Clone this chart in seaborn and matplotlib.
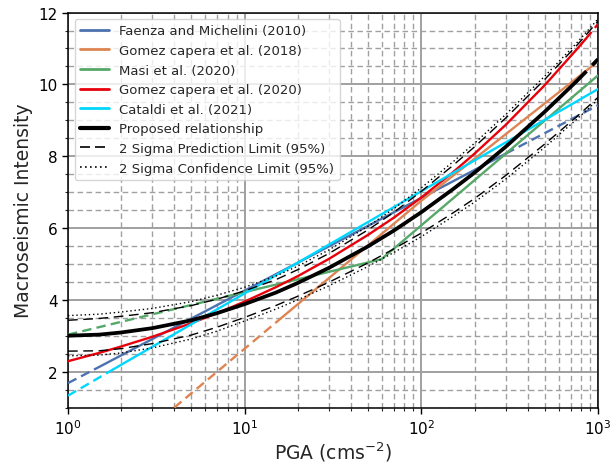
import numpy as np
import pandas as pd
import matplotlib
matplotlib.use("Agg")
import matplotlib.pyplot as plt
import seaborn as sns
from matplotlib.lines import Line2D
from matplotlib.ticker import MultipleLocator, LogLocator, NullFormatter

# ---- data: intensity vs PGA (cm/s^2) ----
# Shared PGA grid for the proposed relationship, its limits and Gomez capera 2020
pga_grid = [1, 1.5, 2, 3, 5, 7, 10, 15, 20, 30, 50, 70, 100, 150, 200, 300, 500, 750, 850, 1000]

proposed_mmi = [3.00, 3.03, 3.09, 3.21, 3.43, 3.63, 3.88, 4.20, 4.47, 4.89, 5.49, 5.93,
                6.44, 7.07, 7.54, 8.26, 9.24, 10.07, 10.34, 10.70]
pred_upper = [3.43, 3.48, 3.54, 3.64, 3.84, 4.02, 4.25, 4.56, 4.84, 5.29, 5.95, 6.44,
              7.02, 7.73, 8.26, 9.06, 10.14, 11.06, 11.36, 11.76]
pred_lower = [2.57, 2.58, 2.64, 2.78, 3.02, 3.24, 3.51, 3.84, 4.10, 4.49, 5.03, 5.42,
              5.86, 6.41, 6.82, 7.46, 8.34, 9.08, 9.32, 9.64]
conf_upper = [3.56, 3.60, 3.66, 3.76, 3.95, 4.13, 4.35, 4.66, 4.94, 5.39, 6.05, 6.54,
              7.12, 7.83, 8.36, 9.16, 10.23, 11.13, 11.43, 11.82]
conf_lower = [2.44, 2.46, 2.52, 2.66, 2.91, 3.13, 3.41, 3.74, 4.00, 4.39, 4.93, 5.32,
              5.76, 6.31, 6.72, 7.36, 8.25, 9.01, 9.25, 9.58]
gomez2020_mmi = [2.29, 2.52, 2.70, 2.97, 3.35, 3.63, 3.95, 4.35, 4.66, 5.14, 5.81, 6.29,
                 6.85, 7.54, 8.07, 8.87, 9.98, 10.95, 11.26, 11.68]

# Linear (in log PGA) relations, given at their end points and validity limits
faenza_pga = [1, 1.5, 300, 1000]
faenza_mmi = [1.68, 2.13, 8.07, 9.42]
gomez2018_pga = [1, 16, 100, 1000]
gomez2018_mmi = [-1.48, 3.48, 6.76, 10.64]
masi_pga = [1, 8, 59.4, 1000]
masi_mmi = [3.03, 4.10, 5.13, 10.25]
cataldi_pga = [1, 1.8, 1000]
cataldi_mmi = [1.33, 2.06, 9.87]

# validity range (solid part) of each relation; outside it the line is dashed
ranges = {
    "Faenza and Michelini (2010)": (1.5, 300),
    "Gomez capera et al. (2018)": (16, 1000),
    "Masi et al. (2020)": (8, 1000),
    "Gomez capera et al. (2020)": (1, 850),
    "Cataldi et al. (2021)": (1.8, 1000),
    "Proposed relationship": (1, 750),
}

colors = {
    "Faenza and Michelini (2010)": "#4C72B0",
    "Gomez capera et al. (2018)": "#DD8452",
    "Masi et al. (2020)": "#55A868",
    "Gomez capera et al. (2020)": "#E8000B",
    "Cataldi et al. (2021)": "#00D7FF",
    "Proposed relationship": "black",
}

sns.set_style("ticks")
plt.rcParams["font.family"] = ["DejaVu Sans"]

fig = plt.figure(figsize=(6.1, 4.64), dpi=100)
ax = fig.add_axes([0.1115, 0.1196, 0.8688, 0.8511])
ax.set_xscale("log")


def draw_relation(name, pga, mmi, lw):
    df = pd.DataFrame({"PGA": pga, "MMI": mmi})
    lo, hi = ranges[name]
    col = colors[name]
    solid = df[(df.PGA >= lo) & (df.PGA <= hi)]
    sns.lineplot(data=solid, x="PGA", y="MMI", color=col, lw=lw, ax=ax,
                 errorbar=None, zorder=3)
    for part in (df[df.PGA <= lo], df[df.PGA >= hi]):
        if len(part) >= 2:
            sns.lineplot(data=part, x="PGA", y="MMI", color=col, lw=lw, ax=ax,
                         errorbar=None, linestyle=(0, (4.0, 2.2)), zorder=3)


draw_relation("Faenza and Michelini (2010)", faenza_pga, faenza_mmi, 1.7)
draw_relation("Gomez capera et al. (2018)", gomez2018_pga, gomez2018_mmi, 1.7)
draw_relation("Masi et al. (2020)", masi_pga, masi_mmi, 1.7)
draw_relation("Gomez capera et al. (2020)", pga_grid, gomez2020_mmi, 1.7)
draw_relation("Cataldi et al. (2021)", cataldi_pga, cataldi_mmi, 1.7)
draw_relation("Proposed relationship", pga_grid, proposed_mmi, 2.7)

limits = pd.DataFrame({"PGA": pga_grid, "pu": pred_upper, "pl": pred_lower,
                       "cu": conf_upper, "cl": conf_lower})
for c in ("pu", "pl"):
    sns.lineplot(data=limits, x="PGA", y=c, color="black", lw=1.0, ax=ax,
                 errorbar=None, linestyle=(0, (7, 4)), zorder=4)
for c in ("cu", "cl"):
    sns.lineplot(data=limits, x="PGA", y=c, color="black", lw=1.0, ax=ax,
                 errorbar=None, linestyle=(0, (1, 2)), zorder=4)

ax.set_xlim(1, 1000)
ax.set_ylim(1, 12)
ax.yaxis.set_major_locator(MultipleLocator(2))
ax.yaxis.set_minor_locator(MultipleLocator(0.5))
ax.xaxis.set_major_locator(LogLocator(base=10))
ax.xaxis.set_minor_locator(LogLocator(base=10, subs=np.arange(2, 10)))
ax.xaxis.set_minor_formatter(NullFormatter())

ax.set_axisbelow(True)
ax.grid(which="major", color="#a0a0a0", lw=1.4, ls="-")
ax.grid(which="minor", color="#a0a0a0", lw=1.0, ls=(0, (4, 2.5)))

for s in ax.spines.values():
    s.set_color("black")
    s.set_linewidth(1.1)
ax.tick_params(which="major", direction="out", length=4, width=1, labelsize=11, colors="black")
ax.tick_params(which="minor", direction="out", length=2.5, width=0.8)

ax.set_xlabel("PGA (cms$^{-2}$)", fontsize=13.5, labelpad=2)
ax.set_ylabel("Macroseismic Intensity", fontsize=13.5)

handles = [Line2D([], [], color=colors[n], lw=2 if n != "Proposed relationship" else 3, label=n)
           for n in colors]
handles.append(Line2D([], [], color="black", lw=1.2, ls=(0, (6, 3)),
                      label="2 Sigma Prediction Limit (95%)"))
handles.append(Line2D([], [], color="black", lw=1.2, ls=(0, (1, 2)),
                      label="2 Sigma Confidence Limit (95%)"))
ax.legend(handles=handles, loc="upper left", fontsize=9.5, framealpha=0.8,
          edgecolor="#cccccc", fancybox=True, handlelength=2.2)

fig.savefig("out.png", dpi=100)
